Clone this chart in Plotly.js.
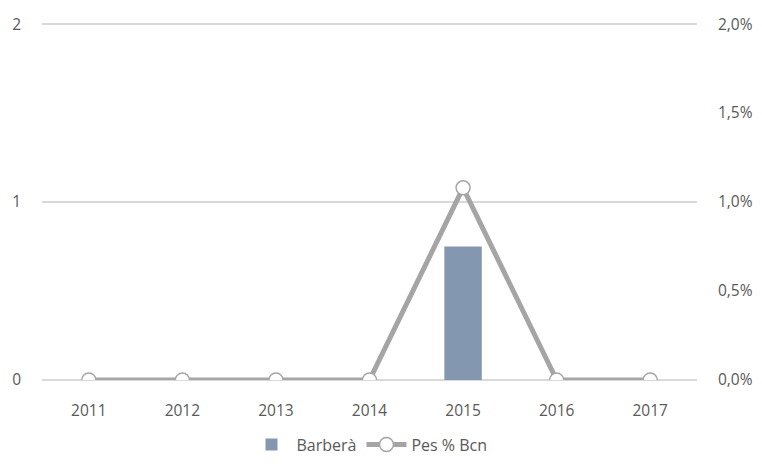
<!DOCTYPE html>
<html><head><meta charset="utf-8">
<script src="https://cdn.plot.ly/plotly-3.0.1.min.js"></script>
<style>html,body{margin:0;padding:0;background:#fff}#c{width:762px;height:468px}</style>
</head><body><div id="c"></div>
<script>
var years = ['2011','2012','2013','2014','2015','2016','2017'];
var barbera = [0, 0, 0, 0, 0.75, 0, 0];
var pesBcn = [0, 0, 0, 0, 0.0108, 0, 0];

var traces = [
  {type:'bar', x:years, y:barbera, name:'Barberà', marker:{color:'#8497b0'}, width:0.4, yaxis:'y'},
  {type:'scatter', mode:'lines+markers', x:years, y:pesBcn, name:'Pes % Bcn', yaxis:'y2',
   line:{color:'#a5a5a5', width:5},
   marker:{symbol:'circle', size:14, color:'#ffffff', line:{color:'#a5a5a5', width:1.5}}}
];
var font = {family:'"Open Sans", "Noto Sans", sans-serif', size:15.5, color:'#595959'};
var layout = {
  width:762, height:468,
  margin:{l:42, r:65, t:23, b:88},
  paper_bgcolor:'#fff', plot_bgcolor:'#fff',
  separators:',.',
  font:font,
  showlegend:true,
  legend:{orientation:'h', x:0.5, xanchor:'center', yref:'container', y:0.05, yanchor:'middle', font:{family:font.family, size:16, color:'#595959'}, traceorder:'normal', itemwidth:40},
  xaxis:{type:'category', range:[-0.5,6.5], automargin:false, showgrid:false, zeroline:false, showline:false, ticks:'', tickfont:font, ticklabelstandoff:19},
  yaxis:{range:[0,2.006], automargin:false, tickvals:[0,1,2], showgrid:true, gridcolor:'#d9d9d9', gridwidth:1.3, zeroline:true, zerolinecolor:'#d9d9d9', zerolinewidth:1.3, showline:false, ticks:'', tickfont:font, ticklabelstandoff:20},
  yaxis2:{overlaying:'y', side:'right', automargin:false, range:[0,0.02006], tickvals:[0,0.005,0.01,0.015,0.02], tickformat:'.1%', showgrid:false, zeroline:false, showline:false, ticks:'', tickfont:font, ticklabelstandoff:20},
  bargap:0.6
};
Plotly.newPlot('c', traces, layout, {displayModeBar:false, staticPlot:true});
</script></body></html>
